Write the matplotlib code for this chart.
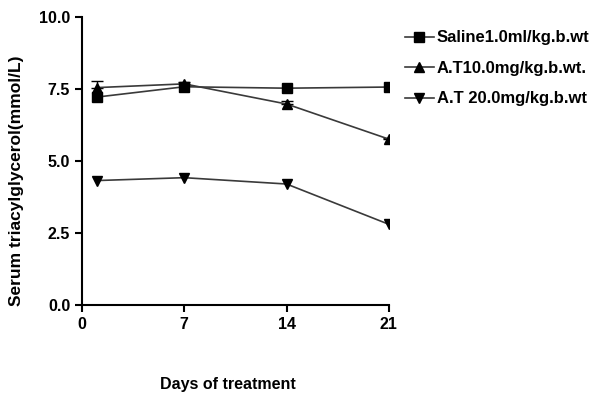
import matplotlib.pyplot as plt
from matplotlib.lines import Line2D

days = [1, 7, 14, 21]
saline = [7.22, 7.58, 7.53, 7.57]
at10 = [7.55, 7.68, 6.98, 5.76]
at20 = [4.32, 4.42, 4.2, 2.8]
at10_err = [0.22, 0.05, 0.1, 0.05]
labels = ["Saline1.0ml/kg.b.wt", "A.T10.0mg/kg.b.wt.", "A.T 20.0mg/kg.b.wt"]
x_ticks = [0, 7, 14, 21]
y_ticks = [0.0, 2.5, 5.0, 7.5, 10.0]

plt.rcParams["font.family"] = ["Liberation Sans", "DejaVu Sans"]
plt.rcParams["font.weight"] = "bold"

fig = plt.figure(figsize=(5.9, 3.98), dpi=100)
ax = fig.add_axes([0.139, 0.234, 0.52, 0.723])

line_kw = dict(color="#3a3a3a", linewidth=1.2, markersize=7, markerfacecolor="black", markeredgecolor="black")
ax.errorbar(days, at10, yerr=[[0] * 4, at10_err], fmt="none", capsize=4, ecolor="black", elinewidth=1)
ax.plot(days, at10, marker="^", **line_kw)
ax.plot(days, saline, marker="s", **line_kw)
ax.plot(days, at20, marker="v", **line_kw)

ax.set_xlim(0, 21)
ax.set_ylim(0, 10)
ax.set_xticks(x_ticks)
ax.set_yticks(y_ticks)
ax.set_yticklabels([f"{v:.1f}" for v in y_ticks])
ax.tick_params(direction="out", length=5, width=1.5, labelsize=11.5)
for side in ["top", "right"]:
    ax.spines[side].set_visible(False)
for side in ["left", "bottom"]:
    ax.spines[side].set_linewidth(1.5)

ax.set_xlabel("Days of treatment", fontsize=11.5, fontweight="bold")
ax.xaxis.set_label_coords(0.475, -0.25)
ax.set_ylabel("Serum triacylglycerol(mmol/L)", fontsize=12.5, fontweight="bold")
ax.yaxis.set_label_coords(-0.19, 0.43)

handles = [Line2D([], [], marker=m, **line_kw) for m in ["s", "^", "v"]]
ax.legend(handles, labels, loc="upper left", bbox_to_anchor=(1.01, 1.0), frameon=False,
          fontsize=12, handlelength=1.7, handletextpad=0.2, labelspacing=0.93, borderaxespad=0.4)

fig.savefig("out.png", dpi=100)
